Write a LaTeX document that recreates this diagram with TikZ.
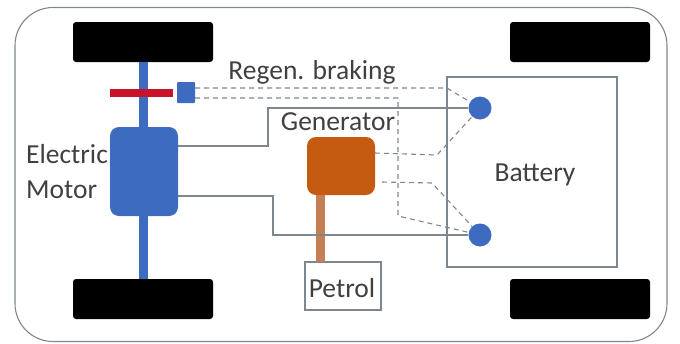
\documentclass[tikz,border=0pt]{standalone}
\usepackage{fontspec}
\setmainfont{Carlito}
\usepackage{xcolor}
\usetikzlibrary{positioning}
\definecolor{motorblue}{HTML}{3C6BC0}
\definecolor{genorange}{HTML}{C55A11}
\definecolor{shaftbrown}{HTML}{C57F55}
\definecolor{brakered}{HTML}{C8142A}
\definecolor{wiregray}{HTML}{7C8790}
\tikzset{
  wheel/.style={fill=black, rounded corners=3pt, minimum width=140pt, minimum height=40pt, inner sep=0pt},
  unit/.style={rounded corners=9pt, inner sep=0pt},
  plainbox/.style={draw=wiregray, line width=1.2pt, fill=white, inner sep=0pt},
  terminal/.style={circle, fill=motorblue, minimum size=23pt, inner sep=0pt},
  wire/.style={draw=wiregray, line width=1.2pt},
  regen/.style={draw=wiregray, line width=1.1pt, dash pattern=on 5pt off 4pt},
  lbl/.style={font=\fontsize{27.5}{35}\selectfont, text=black!75, inner sep=0pt, align=center}
}

\begin{document}
\begin{tikzpicture}[x=1pt, y=-1pt]
        \useasboundingbox (0,0) rectangle (680,343);
        % Body
        \node[draw=wiregray, line width=1.1pt, rounded corners=38pt, minimum width=652pt, minimum height=334pt, inner sep=0pt] (body) at (341,174.5) {};

        % Battery and petrol boxes
        \node[plainbox, minimum width=170pt, minimum height=190pt] (battery) at (532,172) {};
        \node[plainbox, minimum width=76pt, minimum height=48pt] (petrol) at (343,286) {};

        % Axle and shaft
        \node[wheel] (wheelA) at (143,42) {};
        \node[wheel] (wheelB) at (580,42) {};
        \node[wheel] (wheelC) at (143,299) {};
        \node[wheel] (wheelD) at (580,299) {};
        \draw[motorblue, line width=9pt] (wheelA) -- (wheelC);
        \node[fill=brakered, minimum width=63pt, minimum height=8pt, inner sep=0pt] (brake) at (141.5,92.5) {};
        \node[fill=motorblue, rounded corners=1pt, minimum width=18pt, minimum height=21pt, inner sep=0pt] (sensor) at (186,92.5) {};

        % Motor and generator
        \node[unit, fill=motorblue, minimum width=68pt, minimum height=89pt] (motor) at (144,171.5) {};
        \node[unit, fill=genorange, minimum width=68pt, minimum height=58pt] (gen) at (341,166) {};
        \draw[shaftbrown, line width=9pt] (320,195) -- (320,262);

        % Terminals
        \node[terminal] (top) at (480,108) {};
        \node[terminal] (bot) at (480,235) {};

        % Solid wires
        \draw[wire] (motor.east |- 0,146) -- (268,146) -- (268,108) -- (top);
        \draw[wire] (motor.east |- 0,196) -- (273,196) -- (273,235) -- (bot);

        % Dashed wires
        \draw[regen] (sensor.east |- 0,88) -- (447,88) -- (top);
        \draw[regen] (sensor.east |- 0,98) -- (398,98) -- (398,216) -- (bot);
        \draw[regen] (375,153) -- (437,155) -- (top);
        \draw[regen] (382,182) -- (432,183) -- (bot);

        % Labels
        \node[lbl] (regenlbl) at (312,72) {Regen. braking};
        \node[lbl] (genlbl) at (338,122) {Generator};
        \node[lbl, align=left] (motorlbl) at (67,172) {Electric\\Motor};
        \node[lbl] (batlbl) at (535,175) {Battery};
        \node[lbl] (petlbl) at (342,288) {Petrol};
    \end{tikzpicture}
\end{document}
